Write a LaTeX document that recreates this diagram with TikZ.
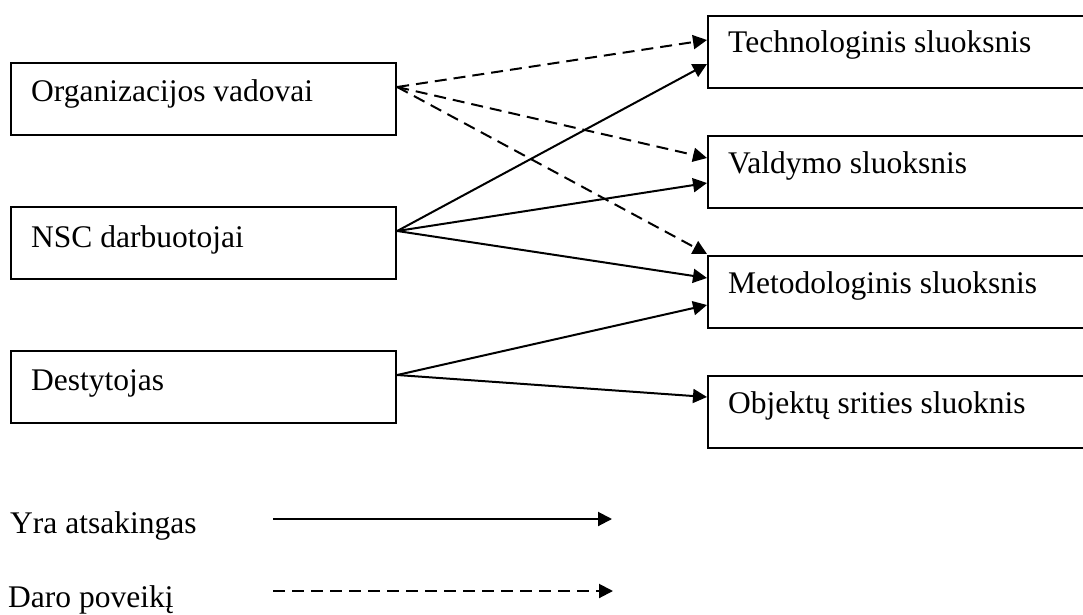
\documentclass[tikz,border=0pt]{standalone}
\usepackage{fontspec}
\setmainfont{Liberation Serif}
\usetikzlibrary{arrows.meta}
\begin{document}
\begin{tikzpicture}[x=1pt,y=-1pt,
  box/.style={draw, line width=2.2pt, rectangle, anchor=north west,
    minimum height=72pt, inner sep=0pt},
  leftbox/.style={box, minimum width=385pt},
  rightbox/.style={box, minimum width=380pt},
  lbl/.style={anchor=base west, inner sep=0pt,
    font=\fontsize{31.5}{38}\selectfont},
  resp/.style={line width=2pt, -{Triangle[length=14pt,width=14pt]}},
  infl/.style={resp, dash pattern=on 12pt off 7pt}]
\useasboundingbox (0,0) rectangle (1083,615);

% actors on the left
\node[leftbox] (org)  at (10,62)  {};
\node[leftbox] (nsc)  at (10,206) {};
\node[leftbox] (dest) at (10,350) {};
\node[lbl] (orgt)  at (31,102) {Organizacijos vadovai};
\node[lbl] (nsct)  at (31,247) {NSC darbuotojai};
\node[lbl] (destt) at (31,390) {Destytojas};

% layers on the right
\node[rightbox] (tech) at (707,15)  {};
\node[rightbox] (vald) at (707,135) {};
\node[rightbox] (meto) at (707,255) {};
\node[rightbox] (obj)  at (707,375) {};
\node[lbl] (techt) at (728,53)  {Technologinis sluoksnis};
\node[lbl] (valdt) at (728,173) {Valdymo sluoksnis};
\node[lbl] (metot) at (728,293) {Metodologinis sluoksnis};
\node[lbl] (objt)  at (728,413) {Objektų srities sluoknis};

% influence (dashed)
\draw[infl] ([yshift=-25pt]org.north east) -- ([yshift=-25pt]tech.north west);
\draw[infl] ([yshift=-25pt]org.north east) -- ([yshift=-23pt]vald.north west);
\draw[infl] ([yshift=-25pt]org.north east) -- ([yshift=1pt]meto.north west);

% responsibility (solid)
\draw[resp] ([yshift=-25pt]nsc.north east) -- ([yshift=-49pt]tech.north west);
\draw[resp] ([yshift=-25pt]nsc.north east) -- ([yshift=-48pt]vald.north west);
\draw[resp] ([yshift=-25pt]nsc.north east) -- ([yshift=-23pt]meto.north west);
\draw[resp] ([yshift=-25pt]dest.north east) -- ([yshift=-50pt]meto.north west);
\draw[resp] ([yshift=-25pt]dest.north east) -- ([yshift=-22pt]obj.north west);

% legend
\node[lbl] (leg1) at (10,533) {Yra atsakingas};
\node[lbl] (leg2) at (8,607) {Daro poveikį};
\coordinate (r1) at (273,519);
\coordinate (r2) at (612,519);
\coordinate (d1) at (273,591);
\coordinate (d2) at (613,591);
\draw[resp] (r1) -- (r2);
\draw[infl] (d1) -- (d2);
\end{tikzpicture}
\end{document}
